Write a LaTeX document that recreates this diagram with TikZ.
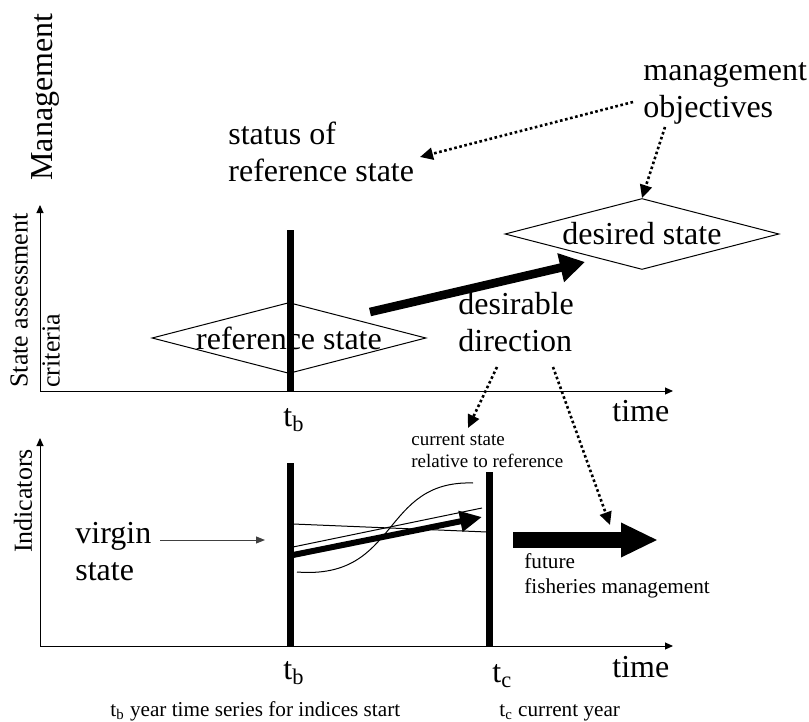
\documentclass[tikz,border=0pt]{standalone}
\usepackage{fontspec}
\setmainfont{Liberation Serif}
\usetikzlibrary{calc,shapes.geometric,arrows.meta}

\tikzset{
  lbl/.style={font=\fontsize{16}{18.5}\selectfont,inner sep=0pt},
  lblmid/.style={font=\fontsize{13}{16}\selectfont,inner sep=0pt},
  lblsmall/.style={font=\fontsize{10.6}{12.5}\selectfont,inner sep=0pt},
  lbltiny/.style={font=\fontsize{9.5}{11}\selectfont,inner sep=0pt},
  axis/.style={line width=0.5pt,-{Triangle[length=4pt,width=3.5pt]}},
  bar/.style={line width=3.5pt},
  dotarrow/.style={line width=1.3pt,dash pattern=on 1.3pt off 1.3pt,-{Triangle[length=6.5pt,width=6pt]}},
  statebox/.style={diamond,draw,line width=0.5pt,inner sep=0pt,minimum width=137pt,minimum height=35.5pt}
}

\begin{document}
\begin{tikzpicture}[x=0.5pt,y=-0.5pt]
  \useasboundingbox (0,0) rectangle (809,722);

  \coordinate (o1) at (40,391);
  \coordinate (o2) at (40,646);

  \draw[axis] (o1) -- ($(o1)+(0,-186)$);
  \draw[axis] (o1) -- ($(o1)+(633,0)$);
  \draw[axis] (o2) -- ($(o2)+(0,-208)$);
  \draw[axis] (o2) -- ($(o2)+(633,0)$);

  \node[lbl,rotate=90] (mgmt) at (45,97) {Management};
  \node[lblmid,rotate=90,anchor=north west,align=left] (assess) at (10,388) {State assessment\\criteria};
  \node[lblmid,rotate=90] (indic) at (23,501) {Indicators};

  \node[statebox,label={[lbl]center:reference state}] (refstate) at (289,338) {};
  \node[statebox,label={[lbl]center:desired state}] (desired) at (642,234) {};

  \draw[bar] (290,230) -- (290,391);
  \draw[bar] (290,463) -- (290,646);
  \draw[bar] (489,472) -- (489,646);

  \node[lbl,anchor=base west] (tbA) at (283,426) {t\textsubscript{b}};
  \node[lbl,anchor=base west] (timeA) at (612,421) {time};
  \node[lbl,anchor=base west] (tbB) at (283,679) {t\textsubscript{b}};
  \node[lbl,anchor=base west] (tc) at (492,682) {t\textsubscript{c}};
  \node[lbl,anchor=base west] (timeB) at (612,677) {time};
  \node[lblsmall,anchor=base west] (captb) at (110,716) {t\textsubscript{b} year time series for indices start};
  \node[lblsmall,anchor=base west] (captc) at (499,716) {t\textsubscript{c} current year};

  \node[lbl,anchor=base west,align=left] (status) at (228,182) {status of\\reference state};
  \node[lbl,anchor=base west,align=left] (objectives) at (643,118) {management\\objectives};
  \node[lbl,anchor=base west,align=left] (desirable) at (458,351) {desirable\\direction};
  \node[lbltiny,anchor=base west,align=left] (current) at (411,467) {current state\\relative to reference};
  \node[lbl,anchor=base west,align=left] (virgin) at (75,580) {virgin\\state};
  \node[lblsmall,anchor=base west,align=left] (future) at (524,593) {future\\fisheries management};

  \draw[line width=4.3pt,-{Triangle[length=12.5pt,width=14pt]}] ($(refstate.center)+(81,-26)$) -- ($(desired.center)+(-57,28)$);

  \draw[dotarrow] ($(objectives.base west)+(-10,-16)$) -- ($(status.base west)+(192,-25)$);
  \draw[dotarrow] ($(objectives.base west)+(22,9)$) -- (desired.north);
  \draw[dotarrow] ($(desirable.base west)+(39,16)$) -- ($(current.base west)+(57,-39)$);
  \draw[dotarrow] ($(desirable.base west)+(95,16)$) -- ($(future.base west)+(86,-68)$);

  \draw[line width=0.5pt] (293,524) -- (487,532);
  \draw[line width=0.5pt] (293,547) -- (482,508);
  \draw[line width=0.5pt] (297,572) .. controls (400,580) and (380,480) .. (473,483);
  \draw[line width=3pt,-{Triangle[length=11pt,width=10pt]}] (293,555) -- (482,517);
  \draw[black!75,line width=0.5pt,-{Triangle[length=4.5pt,width=3.5pt]}] ($(virgin.base west)+(85,-40)$) -- (265,540);
  \draw[line width=8pt,-{Triangle[length=18.5pt,width=16pt]}] (513,540) -- (658,540);
\end{tikzpicture}
\end{document}
